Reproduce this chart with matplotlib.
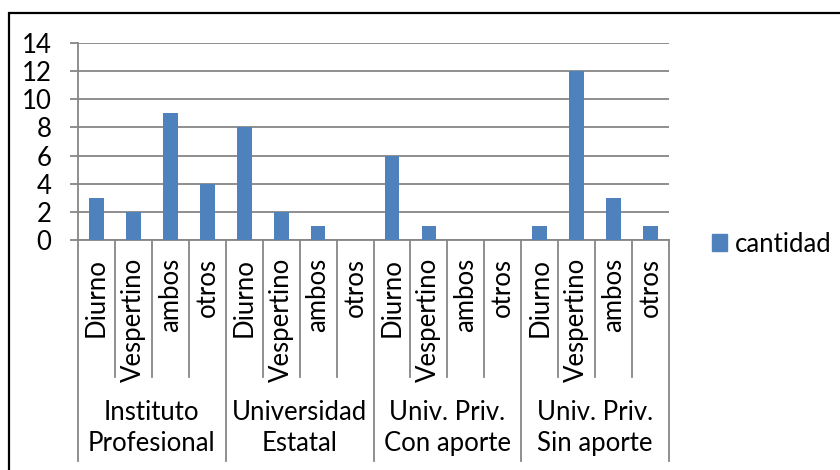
import matplotlib
matplotlib.use('Agg')
import matplotlib.pyplot as plt
import matplotlib.transforms as mtransforms
from matplotlib.patches import Rectangle, Patch

# data
groups = ['Instituto\nProfesional', 'Universidad\nEstatal',
          'Univ. Priv.\nCon aporte', 'Univ. Priv.\nSin aporte']
shifts = ['Diurno', 'Vespertino', 'ambos', 'otros']
cantidad = [3, 2, 9, 4,
            8, 2, 1, 0,
            6, 1, 0, 0,
            1, 12, 3, 1]
series_name = 'cantidad'
yticks = [0, 2, 4, 6, 8, 10, 12, 14]

bar_color = '#4f81bd'
grid_color = '#868686'
fs = 18.5

plt.rcParams['font.family'] = ['Lato', 'DejaVu Sans']

fig = plt.figure(figsize=(8.4, 4.7), dpi=100)
W, H = 840, 470

# plot area in pixels: left 78, right 669, top 43, bottom 240
ax = fig.add_axes([78 / W, 1 - 240 / H, (669 - 78) / W, (240 - 43) / H])

n = len(cantidad)
xs = [i + 0.5 for i in range(n)]
ax.bar(xs, cantidad, width=0.4, color=bar_color, zorder=3, label=series_name)

ax.set_xlim(0, n)
ax.set_ylim(0, 14)
ax.set_yticks(yticks)
ax.set_yticklabels([str(v) for v in yticks], fontsize=fs)
ax.yaxis.grid(True, color=grid_color, linewidth=1.3, zorder=0)
ax.tick_params(axis='y', length=6, width=1.3, color=grid_color, pad=13)
ax.set_xticks([])

for s in ['top', 'right']:
    ax.spines[s].set_visible(False)
for s in ['left', 'bottom']:
    ax.spines[s].set_color(grid_color)
    ax.spines[s].set_linewidth(1.3)

# multi-level category axis
axh = 197.0
trans = mtransforms.blended_transform_factory(ax.transData, ax.transAxes)
minor_bottom = -(377 - 240) / axh
major_bottom = -(461 - 240) / axh
for i in range(n + 1):
    y0 = major_bottom if i % 4 == 0 else minor_bottom
    ax.plot([i, i], [0, y0], color=grid_color, linewidth=1.3,
            transform=trans, clip_on=False)

label_top = -(258 - 240) / axh
for i, x in enumerate(xs):
    ax.text(x, label_top, shifts[i % 4], rotation=90, ha='center', va='top',
            fontsize=fs, transform=trans)

group_y = -(428 - 240) / axh
for g, name in enumerate(groups):
    ax.text(g * 4 + 2, group_y, name, ha='center', va='center',
            fontsize=fs, linespacing=1.3, transform=trans)

# legend
fig.legend(handles=[Patch(color=bar_color, label=series_name)],
           loc='center left', bbox_to_anchor=(712 / W, 1 - 244 / H),
           frameon=False, fontsize=fs, handlelength=0.6, handleheight=0.6,
           handletextpad=0.3, borderpad=0, borderaxespad=0)

# chart border (left and top visible)
fig.patches.append(Rectangle((9 / W, -0.1), 1.2, 1 - 13 / H + 0.1,
                             transform=fig.transFigure, fill=False,
                             edgecolor='black', linewidth=1.6))

fig.savefig('out.png', dpi=100)
